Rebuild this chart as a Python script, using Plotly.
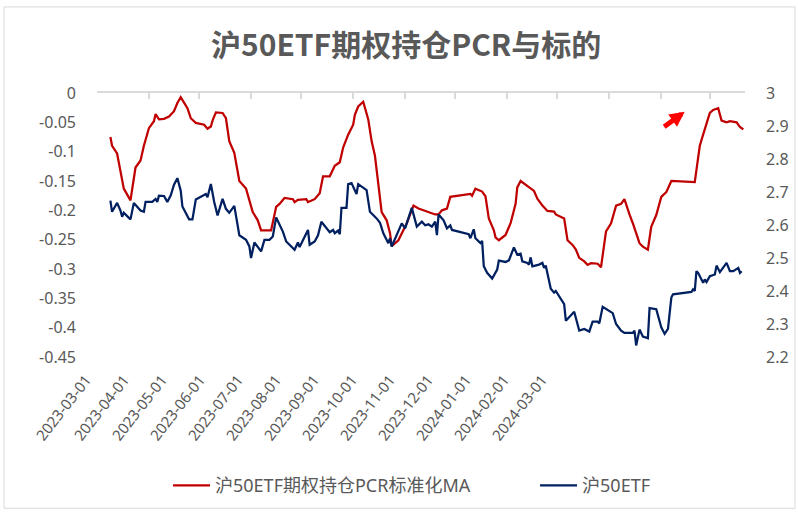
import plotly.graph_objects as go

# 沪50ETF期权持仓PCR标准化MA (left axis)
pcr_dates = [
    '2023-03-09', '2023-03-10', '2023-03-13', '2023-03-15', '2023-03-17', '2023-03-21',
    '2023-03-24', '2023-03-27', '2023-03-29', '2023-04-01', '2023-04-04', '2023-04-05',
    '2023-04-07', '2023-04-10', '2023-04-13', '2023-04-16', '2023-04-18', '2023-04-20',
    '2023-04-24', '2023-04-26', '2023-04-29', '2023-05-04', '2023-05-06', '2023-05-08',
    '2023-05-09', '2023-05-11', '2023-05-15', '2023-05-17', '2023-05-19', '2023-05-22',
    '2023-05-25', '2023-05-29', '2023-06-02', '2023-06-05', '2023-06-07', '2023-06-13',
    '2023-06-16', '2023-06-18', '2023-06-21', '2023-06-26', '2023-06-27', '2023-06-29',
    '2023-07-04', '2023-07-05', '2023-07-09', '2023-07-12', '2023-07-14', '2023-07-18',
    '2023-07-21', '2023-07-24', '2023-07-26', '2023-07-29', '2023-08-01', '2023-08-02',
    '2023-08-04', '2023-08-07', '2023-08-10', '2023-08-12', '2023-08-14', '2023-08-16',
    '2023-08-18', '2023-08-21', '2023-08-23', '2023-08-24', '2023-08-28', '2023-09-02',
    '2023-09-06', '2023-09-09', '2023-09-13', '2023-09-15', '2023-09-19', '2023-09-21',
    '2023-09-23', '2023-09-26', '2023-09-28', '2023-10-05', '2023-10-10', '2023-10-11',
    '2023-10-13', '2023-10-17', '2023-10-19', '2023-10-21', '2023-10-24', '2023-10-25',
    '2023-10-27', '2023-10-31', '2023-11-03', '2023-11-06', '2023-11-07', '2023-11-09',
    '2023-11-14', '2023-11-17', '2023-11-19', '2023-11-22', '2023-11-25', '2023-11-29',
    '2023-11-30', '2023-12-05', '2023-12-07', '2023-12-10', '2023-12-12', '2023-12-14',
    '2023-12-17', '2023-12-19', '2023-12-21', '2023-12-25', '2023-12-27', '2023-12-30',
    '2024-01-02', '2024-01-05', '2024-01-08', '2024-01-10', '2024-01-13', '2024-01-15',
    '2024-01-19', '2024-01-21', '2024-01-24', '2024-01-26', '2024-01-29', '2024-02-01',
    '2024-02-04', '2024-02-07', '2024-02-21', '2024-02-24', '2024-02-26', '2024-03-01',
    '2024-03-03', '2024-03-06', '2024-03-08', '2024-03-11', '2024-03-13', '2024-03-17',
    '2024-03-19', '2024-03-21',
]
pcr_ma = [
    -0.075, -0.090, -0.103, -0.133, -0.163, -0.183,
    -0.127, -0.115, -0.090, -0.060, -0.048, -0.036,
    -0.045, -0.044, -0.040, -0.031, -0.017, -0.007,
    -0.026, -0.043, -0.051, -0.054, -0.061, -0.057,
    -0.047, -0.033, -0.034, -0.043, -0.082, -0.102,
    -0.150, -0.163, -0.203, -0.217, -0.234, -0.234,
    -0.194, -0.189, -0.179, -0.181, -0.186, -0.182,
    -0.181, -0.186, -0.181, -0.171, -0.142, -0.142,
    -0.124, -0.118, -0.093, -0.071, -0.054, -0.037,
    -0.023, -0.015, -0.045, -0.082, -0.107, -0.155,
    -0.203, -0.217, -0.239, -0.261, -0.251, -0.222,
    -0.192, -0.197, -0.201, -0.202, -0.207, -0.207,
    -0.200, -0.197, -0.177, -0.174, -0.172, -0.175,
    -0.163, -0.168, -0.176, -0.214, -0.234, -0.246,
    -0.251, -0.242, -0.222, -0.189, -0.161, -0.150,
    -0.160, -0.167, -0.180, -0.192, -0.201, -0.202,
    -0.207, -0.214, -0.251, -0.259, -0.267, -0.281,
    -0.287, -0.293, -0.290, -0.291, -0.297, -0.236,
    -0.222, -0.192, -0.189, -0.181, -0.207, -0.222,
    -0.256, -0.262, -0.267, -0.228, -0.208, -0.177,
    -0.169, -0.150, -0.152, -0.090, -0.071, -0.034,
    -0.029, -0.026, -0.047, -0.050, -0.048, -0.050,
    -0.058, -0.062,
]

# 沪50ETF (right axis)
etf_dates = [
    '2023-03-09', '2023-03-10', '2023-03-13', '2023-03-15', '2023-03-16', '2023-03-17',
    '2023-03-19', '2023-03-21', '2023-03-23', '2023-03-27', '2023-03-29', '2023-03-30',
    '2023-04-03', '2023-04-05', '2023-04-06', '2023-04-07', '2023-04-10', '2023-04-12',
    '2023-04-14', '2023-04-16', '2023-04-18', '2023-04-20', '2023-04-21', '2023-04-25',
    '2023-04-27', '2023-04-29', '2023-05-05', '2023-05-06', '2023-05-08', '2023-05-10',
    '2023-05-12', '2023-05-15', '2023-05-17', '2023-05-19', '2023-05-22', '2023-05-25',
    '2023-05-29', '2023-05-31', '2023-06-01', '2023-06-03', '2023-06-07', '2023-06-09',
    '2023-06-12', '2023-06-14', '2023-06-16', '2023-06-20', '2023-06-22', '2023-06-27',
    '2023-06-29', '2023-06-30', '2023-07-05', '2023-07-06', '2023-07-09', '2023-07-11',
    '2023-07-13', '2023-07-18', '2023-07-20', '2023-07-21', '2023-07-23', '2023-07-24',
    '2023-07-25', '2023-07-28', '2023-07-29', '2023-07-31', '2023-08-03', '2023-08-04',
    '2023-08-09', '2023-08-11', '2023-08-15', '2023-08-17', '2023-08-19', '2023-08-22',
    '2023-08-23', '2023-08-24', '2023-08-30', '2023-09-01', '2023-09-05', '2023-09-08',
    '2023-09-11', '2023-09-13', '2023-09-15', '2023-09-17', '2023-09-19', '2023-09-20',
    '2023-09-21', '2023-09-24', '2023-09-26', '2023-09-28', '2023-09-29', '2023-10-05',
    '2023-10-09', '2023-10-10', '2023-10-12', '2023-10-13', '2023-10-16', '2023-10-17',
    '2023-10-18', '2023-10-20', '2023-10-23', '2023-10-26', '2023-10-27', '2023-10-31',
    '2023-11-02', '2023-11-05', '2023-11-07', '2023-11-09', '2023-11-10', '2023-11-13',
    '2023-11-14', '2023-11-15', '2023-11-16', '2023-11-20', '2023-11-22', '2023-11-23',
    '2023-11-24', '2023-11-27', '2023-11-29', '2023-11-30', '2023-12-05', '2023-12-06',
    '2023-12-11', '2023-12-14', '2023-12-17', '2023-12-20', '2023-12-22', '2023-12-25',
    '2023-12-26', '2023-12-28', '2023-12-31', '2024-01-03', '2024-01-05', '2024-01-08',
    '2024-01-10', '2024-01-15', '2024-01-16', '2024-01-17', '2024-01-19', '2024-01-21',
    '2024-01-24', '2024-01-25', '2024-01-29', '2024-01-31', '2024-02-01', '2024-02-03',
    '2024-02-05', '2024-02-07', '2024-02-08', '2024-02-19', '2024-02-20', '2024-02-21',
    '2024-02-22', '2024-02-23', '2024-02-26', '2024-02-27', '2024-02-28', '2024-03-01',
    '2024-03-04', '2024-03-05', '2024-03-07', '2024-03-11', '2024-03-13', '2024-03-15',
    '2024-03-18', '2024-03-19', '2024-03-20',
]
etf_close = [
    2.674, 2.640, 2.667, 2.644, 2.625, 2.637,
    2.627, 2.617, 2.667, 2.644, 2.640, 2.670,
    2.670, 2.679, 2.670, 2.689, 2.688, 2.670,
    2.689, 2.722, 2.742, 2.704, 2.656, 2.617,
    2.617, 2.677, 2.694, 2.684, 2.724, 2.670,
    2.629, 2.679, 2.649, 2.637, 2.658, 2.569,
    2.555, 2.535, 2.500, 2.547, 2.520, 2.555,
    2.555, 2.565, 2.623, 2.580, 2.550, 2.525,
    2.547, 2.533, 2.585, 2.540, 2.550, 2.569,
    2.610, 2.578, 2.585, 2.575, 2.583, 2.572,
    2.652, 2.652, 2.724, 2.727, 2.694, 2.724,
    2.706, 2.640, 2.620, 2.607, 2.575, 2.545,
    2.560, 2.535, 2.605, 2.590, 2.652, 2.595,
    2.610, 2.599, 2.602, 2.595, 2.610, 2.569,
    2.632, 2.614, 2.590, 2.599, 2.585, 2.578,
    2.572, 2.560, 2.587, 2.560, 2.545, 2.552,
    2.475, 2.455, 2.438, 2.465, 2.492, 2.488,
    2.493, 2.532, 2.510, 2.513, 2.490, 2.485,
    2.480, 2.502, 2.475, 2.480, 2.485, 2.470,
    2.477, 2.407, 2.395, 2.400, 2.360, 2.310,
    2.337, 2.280, 2.285, 2.277, 2.307, 2.307,
    2.302, 2.352, 2.342, 2.333, 2.300, 2.280,
    2.273, 2.273, 2.280, 2.235, 2.283, 2.262,
    2.257, 2.348, 2.345, 2.307, 2.290, 2.270,
    2.285, 2.380, 2.390, 2.397, 2.405, 2.400,
    2.460, 2.455, 2.425, 2.435, 2.427, 2.445,
    2.450, 2.477, 2.457, 2.485, 2.460, 2.460,
    2.470, 2.455, 2.460,
]

left_ticks = [0, -0.05, -0.1, -0.15, -0.2, -0.25, -0.3, -0.35, -0.4, -0.45]
left_labels = ['0', '-0.05', '-0.1', '-0.15', '-0.2', '-0.25', '-0.3', '-0.35', '-0.4', '-0.45']
right_ticks = [2.2, 2.3, 2.4, 2.5, 2.6, 2.7, 2.8, 2.9, 3.0]
right_labels = ['2.2', '2.3', '2.4', '2.5', '2.6', '2.7', '2.8', '2.9', '3']
month_labels = ['2023-03-01', '2023-04-01', '2023-05-01', '2023-06-01', '2023-07-01',
                '2023-08-01', '2023-09-01', '2023-10-01', '2023-11-01', '2023-12-01',
                '2024-01-01', '2024-02-01', '2024-03-01']

GRAY = '#595959'
FONT = 'Noto Sans, Noto Sans CJK SC, sans-serif'
label_slots = list(range(len(month_labels)))

fig = go.Figure()
fig.add_trace(go.Scatter(x=pcr_dates, y=pcr_ma, mode='lines', name='沪50ETF期权持仓PCR标准化MA',
                         line=dict(color='#C00000', width=2.25), xaxis='x', yaxis='y', legend='legend'))
fig.add_trace(go.Scatter(x=etf_dates, y=etf_close, mode='lines', name='沪50ETF',
                         line=dict(color='#002060', width=2.25), xaxis='x', yaxis='y2', legend='legend2'))
# empty helper trace so the date-label axis gets drawn
fig.add_trace(go.Scatter(x=label_slots, y=[None] * len(label_slots), mode='lines',
                         xaxis='x2', yaxis='y', showlegend=False, hoverinfo='skip'))

fig.update_layout(
    width=798, height=516,
    margin=dict(l=97, r=53, t=93, b=156),
    paper_bgcolor='white', plot_bgcolor='white',
    font=dict(family=FONT, color=GRAY),
    title=dict(text='<b>沪50ETF期权持仓PCR与标的</b>', x=0.509, xanchor='center', y=0.911, yanchor='middle',
               font=dict(family='Noto Sans CJK SC', size=30, color=GRAY)),
    xaxis=dict(type='date', range=['2023-03-01', '2024-03-22'], anchor='y',
               side='top', showline=True, linecolor='#d9d9d9', linewidth=1.5,
               ticks='inside', ticklen=6, tickcolor='#d9d9d9', tickwidth=1.5,
               tick0='2023-03-01', dtick='M1', showticklabels=False, showgrid=False,
               zeroline=False, automargin=False),
    xaxis2=dict(type='linear', overlaying='x', anchor='y', side='bottom', range=[-0.001, 648 / 38],
                tickmode='array', tickvals=label_slots, ticktext=month_labels,
                tickangle=-52, ticks='', showline=False, showgrid=False, zeroline=False,
                ticklabelstandoff=10, ticklabelshift=-11,
                tickfont=dict(size=15, color=GRAY), automargin=False),
    yaxis=dict(range=[-0.45, 0], anchor='x', tickmode='array', tickvals=left_ticks, ticktext=left_labels,
               showgrid=False, zeroline=False, showline=False, ticks='',
               ticklabelstandoff=20, tickfont=dict(size=16, color=GRAY), automargin=False),
    yaxis2=dict(range=[2.2, 3.0], overlaying='y', side='right', anchor='x',
                tickmode='array', tickvals=right_ticks, ticktext=right_labels,
                showgrid=False, zeroline=False, showline=False, ticks='',
                ticklabelstandoff=20, tickfont=dict(size=16, color=GRAY), automargin=False),
    legend=dict(orientation='h', x=0.1096, xanchor='left', y=-0.487, yanchor='middle',
                itemwidth=37, font=dict(size=18, color=GRAY)),
    legend2=dict(orientation='h', x=0.676, xanchor='left', y=-0.487, yanchor='middle',
                 itemwidth=37, font=dict(size=18, color=GRAY)),
    showlegend=True,
)

# red arrow near the recent PCR high
fig.add_annotation(x='2024-02-15', y=-0.032, xref='x', yref='y', ax=-22, ay=16,
                   showarrow=True, arrowhead=2, arrowsize=0.6, arrowwidth=5, arrowcolor='#FF0000', text='')

# chart border
fig.add_shape(type='rect', xref='paper', yref='paper', x0=-0.1435, x1=1.0772, y0=-0.573, y1=1.326,
              line=dict(color='#d9d9d9', width=1), fillcolor='rgba(0,0,0,0)', layer='below')

fig.write_html('out.html', config={'displayModeBar': False},
               post_script="document.body.style.margin='0px';")
